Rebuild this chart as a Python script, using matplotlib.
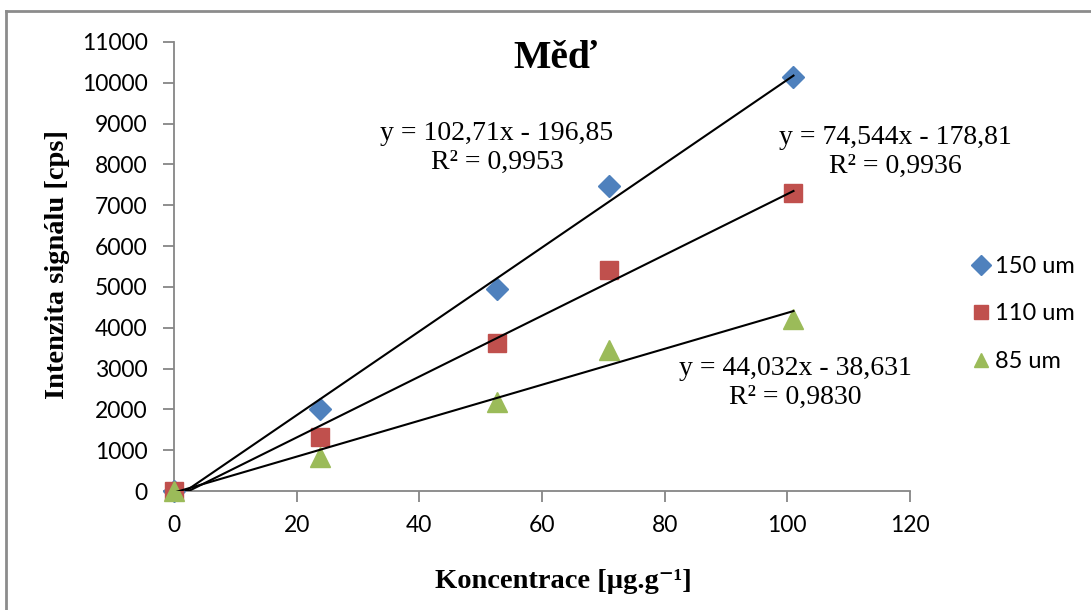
import numpy as np
import matplotlib.pyplot as plt
from matplotlib.lines import Line2D

# data
koncentrace = [0, 23.8, 52.7, 70.9, 101]
serie = ['150 um', '110 um', '85 um']
hodnoty = {
    '150 um': [0, 2010, 4950, 7475, 10150],
    '110 um': [0, 1320, 3630, 5415, 7290],
    '85 um': [0, 840, 2190, 3450, 4210],
}
smernice = [102.71, 74.544, 44.032]
posun = [-196.85, -178.81, -38.631]
rovnice = ['y = 102,71x - 196,85\nR² = 0,9953',
           'y = 74,544x - 178,81\nR² = 0,9936',
           'y = 44,032x - 38,631\nR² = 0,9830']

barvy = ['#4F81BD', '#C0504D', '#9BBB59']
znacky = ['D', 's', '^']
velikosti = [11, 13, 15]

W, H = 1091, 610
fig = plt.figure(figsize=(W / 100, H / 100), dpi=100)
ax = fig.add_axes([174 / W, 1 - 491 / H, (910 - 174) / W, (491 - 42) / H])

for i, s in enumerate(serie):
    ax.plot(koncentrace, hodnoty[s], linestyle='none', marker=znacky[i],
            color=barvy[i], markersize=velikosti[i], label=s, zorder=3,
            clip_on=False)
    xx = np.array([koncentrace[0], koncentrace[-1]])
    ax.plot(xx, smernice[i] * xx + posun[i], color='black', lw=1.5, zorder=4)

ax.set_xlim(0, 120)
ax.set_ylim(0, 11000)
ax.set_xticks(range(0, 121, 20))
ax.set_yticks(range(0, 11001, 1000))
for sp in ['top', 'right']:
    ax.spines[sp].set_visible(False)
for sp in ['left', 'bottom']:
    ax.spines[sp].set_color('#868686')
    ax.spines[sp].set_linewidth(1.3)
ax.tick_params(direction='out', length=8, width=1.3, color='#868686',
               labelsize=16.5)
ax.tick_params(axis='y', pad=11)
ax.tick_params(axis='x', pad=9)
for lab in ax.get_xticklabels() + ax.get_yticklabels():
    lab.set_fontfamily('Lato')

serif = ['Liberation Serif', 'DejaVu Serif']
fig.text(555 / W, 1 - 58 / H, 'Měď', fontsize=28.5, fontweight='bold',
         family=serif, ha='center', va='center')
fig.text(563 / W, 1 - 581 / H, 'Koncentrace [µg.g⁻¹]',
         fontsize=20.5, fontweight='bold', family=serif, ha='center', va='center')
fig.text(58 / W, 1 - 265 / H, 'Intenzita signálu [cps]', fontsize=20.5,
         fontweight='bold', family=serif, ha='center', va='center',
         rotation=90)

pozice = [(497, 148), (895, 152), (795, 383)]
for (px, py), t in zip(pozice, rovnice):
    fig.text(px / W, 1 - py / H, t, fontsize=20, family=serif,
             ha='center', va='center', linespacing=1.25)

leg = ax.legend(loc='center left', bbox_to_anchor=(957 / W, 1 - 314 / H),
                bbox_transform=fig.transFigure, frameon=False,
                prop={'family': 'Lato', 'size': 17}, handletextpad=0.0,
                labelspacing=1.12, handlelength=1.2, borderaxespad=0)
for h in leg.legend_handles:
    h.set_markersize(10)

# outer frame
fig.add_artist(Line2D([6 / W, 6 / W], [0, 1 - 11 / H], color='#8c8c8c', lw=2,
                      transform=fig.transFigure))
fig.add_artist(Line2D([6 / W, 1], [1 - 11 / H, 1 - 11 / H], color='#8c8c8c',
                      lw=2, transform=fig.transFigure))

fig.savefig('out.png', dpi=100)
